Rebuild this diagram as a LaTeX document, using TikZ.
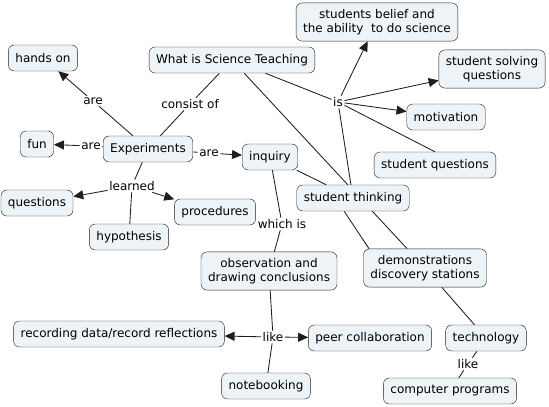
\documentclass[tikz,border=0pt]{standalone}
\usepackage{fontspec}
\setmainfont{DejaVu Sans}
\usepackage{xcolor}
\usetikzlibrary{arrows.meta, backgrounds}

\definecolor{cmapfill}{RGB}{237,243,246}
\definecolor{cmapline}{RGB}{30,30,30}
\newcommand{\cmapfont}{\fontsize{12}{14.5}\selectfont}

\begin{document}
\begin{tikzpicture}[x=1pt, y=-1pt,
    concept/.style={draw=cmapline, fill=cmapfill, rounded corners=6pt, inner xsep=7pt,
        inner ysep=6pt, minimum height=26pt, align=center, font=\cmapfont},
    linkword/.style={inner sep=1.5pt, font=\cmapfont},
    link/.style={draw=cmapline, line width=0.85pt},
    arr/.style={link, -{Triangle[length=10pt, width=9pt]}}]

    \useasboundingbox (0,0) rectangle (549,407);

    % =================================================================
    % CONCEPTS
    % =================================================================
    \node[concept] (wist)    at (232,60)  {What is Science Teaching};
    \node[concept] (hands)   at (43,58)   {hands on};
    \node[concept] (belief)  at (377,22)  {students belief and\\the ability~ to do science};
    \node[concept] (solving) at (492,69)  {student solving\\questions};
    \node[concept] (motiv)   at (446,117) {motivation};
    \node[concept] (squest)  at (435,165) {student questions};
    \node[concept] (fun)     at (37,144)  {fun};
    \node[concept] (exper)   at (148,149) {Experiments};
    \node[concept] (inquiry) at (270,157) {inquiry};
    \node[concept] (quest)   at (37,203)  {questions};
    \node[concept] (proced)  at (215,212) {procedures};
    \node[concept] (hypo)    at (129,237) {hypothesis};
    \node[concept] (sthink)  at (353,198) {student thinking};
    \node[concept] (observ)  at (269,271) {observation and\\drawing conclusions};
    \node[concept] (demo)    at (425,268) {demonstrations\\discovery stations};
    \node[concept] (record)  at (119,334) {recording data/record reflections};
    \node[concept] (peer)    at (370,338) {peer collaboration};
    \node[concept] (techno)  at (486,338) {technology};
    \node[concept] (notebk)  at (266,386) {notebooking};
    \node[concept] (comput)  at (450,391) {computer programs};

    % =================================================================
    % LINKING WORDS
    % =================================================================
    \node[linkword] (areHands) at (93,101)  {are};
    \node[linkword] (consist)  at (190,104) {consist of};
    \node[linkword] (areFun)   at (91,146)  {are};
    \node[linkword] (areInq)   at (209,153) {are};
    \node[linkword] (learned)  at (132,186) {learned};
    \node[linkword] (is)       at (338,102) {is};
    \node[linkword] (which)    at (282,224) {which is};
    \node[linkword] (likeA)    at (273,337) {like};
    \node[linkword] (likeB)    at (468,364) {like};

    % =================================================================
    % CONNECTORS
    % =================================================================
    \begin{scope}[on background layer]
        % What is Science Teaching
        \draw[link] (wist) -- (consist);
        \draw[link] (consist) -- (exper);
        \draw[link] (wist) -- (is);
        \draw[link] (wist) -- (demo);
        \draw[arr]  (is) -- (belief);
        \draw[arr]  (is) -- (solving);
        \draw[arr]  (is) -- (motiv);
        \draw[link] (is) -- (squest.north);
        \draw[link] (is) -- (sthink);

        % Experiments
        \draw[link] (exper) -- (areHands);
        \draw[arr]  (areHands) -- (hands);
        \draw[link] (exper) -- (areFun);
        \draw[arr]  (areFun) -- (fun);
        \draw[link] (exper) -- (areInq);
        \draw[arr]  (areInq) -- (inquiry);
        \draw[link] (exper) -- (learned);
        \draw[arr]  (learned) -- (quest);
        \draw[arr]  (learned) -- (proced);
        \draw[link] (learned) -- (hypo);

        % inquiry and student thinking
        \draw[link] (inquiry) -- (which);
        \draw[link] (which) -- (observ);
        \draw[link] (inquiry) -- (sthink);
        \draw[link] (sthink.236) -- (demo.161);

        % observation
        \draw[link] (observ) -- (likeA);
        \draw[arr]  (likeA) -- (record);
        \draw[arr]  (likeA) -- (peer);
        \draw[link] (likeA) -- (notebk);

        % demonstrations
        \draw[link] (demo) -- (techno);
        \draw[link] (techno) -- (likeB);
        \draw[link] (likeB) -- (comput);
    \end{scope}

\end{tikzpicture}
\end{document}
